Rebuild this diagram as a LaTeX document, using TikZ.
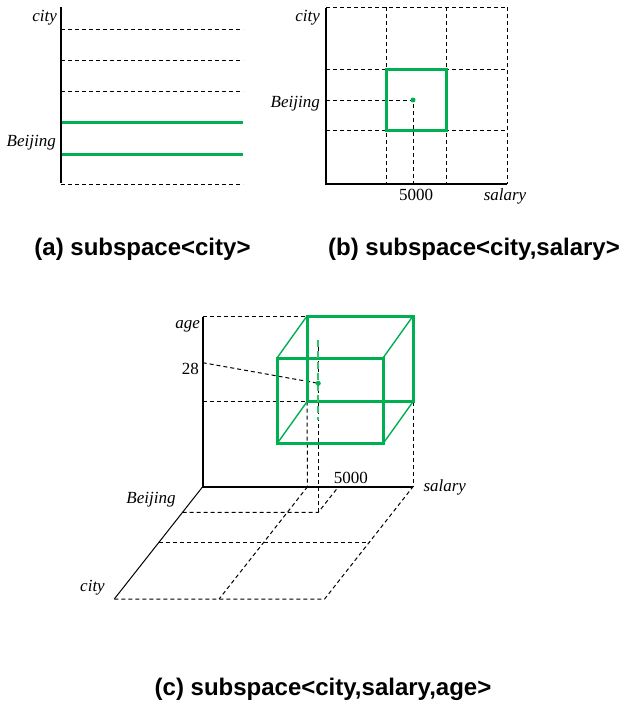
\documentclass[tikz,border=0pt]{standalone}
\usepackage{fontspec}
\setmainfont{Liberation Serif}
\newfontfamily\capfont{Liberation Sans}
\definecolor{sgreen}{RGB}{0,176,80}
\begin{document}
\begin{tikzpicture}[x=1pt,y=-1pt,
  axis/.style={line width=2pt,black},
  thinaxis/.style={line width=1pt,black},
  grid/.style={line width=1pt,black,dash pattern=on 4pt off 3pt},
  gthick/.style={line width=3pt,sgreen},
  gthin/.style={line width=1.4pt,sgreen},
  gdash/.style={line width=2pt,sgreen!80,dash pattern=on 7pt off 4pt},
  lab/.style={inner sep=0pt,font=\fontsize{17}{20}\selectfont\itshape},
  num/.style={inner sep=0pt,font=\fontsize{17}{20}\selectfont},
  captxt/.style={inner sep=0pt,anchor=base,font=\capfont\bfseries\fontsize{24}{28}\selectfont},
  gdot/.style={circle,fill=sgreen,inner sep=0pt,minimum size=5pt}]
\useasboundingbox (0,0) rectangle (625,705);
% ---------------- (a)
\coordinate (aO) at (61,184);
\coordinate (aT) at (61,7);
\foreach \y/\n in {29/1,60/2,91/3,184/4}{
  \coordinate (aL\n) at (61,\y); \coordinate (aR\n) at (243,\y);
  \draw[grid] (aL\n) -- (aR\n);}
\foreach \y/\n in {122/1,154/2}{
  \coordinate (gL\n) at (61,\y); \coordinate (gR\n) at (243,\y);
  \draw[gthick] (gL\n) -- (gR\n);}
\draw[axis] (aT) -- ([yshift=1pt]aO);
\node[lab,anchor=base east] (acity) at (57,21.5) {city};
\node[lab,anchor=base east] (abj) at (56,146.5) {Beijing};
\node[captxt] (capa) at (142.5,255) {(a) subspace<city>};
% ---------------- (b)
\coordinate (bO) at (326,184);
\coordinate (bT) at (326,7);
\coordinate (bR) at (507,184);
\foreach \x/\n in {386/1,446/2,507/3}{
  \coordinate (bvT\n) at (\x,7); \coordinate (bvB\n) at (\x,184);
  \draw[grid] (bvT\n) -- (bvB\n);}
\foreach \y/\n in {7/1,69/2,130/3}{
  \coordinate (bhL\n) at (326,\y); \coordinate (bhR\n) at (507,\y);
  \draw[grid] (bhL\n) -- (bhR\n);}
\coordinate (bP) at (413,100);
\coordinate (bPL) at (326,100);
\coordinate (bPB) at (413,184);
\draw[grid] (bPL) -- (bP) -- (bPB);
\coordinate (bs1) at (386,69);
\coordinate (bs2) at (446,130);
\draw[gthick] (bs1) rectangle (bs2);
\node[gdot] (bdot) at (bP) {};
\draw[axis] ([yshift=-1pt]bT) -- (bO) -- (bR);
\node[lab,anchor=base east] (bcity) at (320,21) {city};
\node[lab,anchor=base east] (bbj) at (320,107) {Beijing};
\node[num,anchor=base] (b5000) at (416,200) {5000};
\node[lab,anchor=base] (bsal) at (505,200) {salary};
\node[captxt] (capb) at (474,255) {(b) subspace<city,salary>};
% ---------------- (c)
\coordinate (O) at (202.7,486.7);
\coordinate (cT) at (202.7,316);
\coordinate (cS) at (413,486.7);
\coordinate (cC) at (114.3,599);
% floor
\coordinate (fb1L) at (182.5,512.3);
\coordinate (fb1R) at (318.3,512.3);
\coordinate (fm1L) at (158.5,542.8);
\coordinate (fm1R) at (368.8,542.8);
\coordinate (fbtR) at (324.6,599);
\coordinate (s1) at (307.5,486.7);
\coordinate (s1b) at (219.1,599);
\coordinate (s5) at (338.5,486.7);
\draw[grid] (fb1L) -- (fb1R) -- (s5);
\draw[grid] (fm1L) -- (fm1R);
\draw[grid] (cC) -- (fbtR) -- (cS);
\draw[grid] (s1) -- (s1b);
% vertical plane
\coordinate (bk1) at (307,316);
\coordinate (bk2) at (413,316);
\coordinate (bk3) at (413,401.7);
\coordinate (bk4) at (307,401.7);
\coordinate (fr1) at (277,358);
\coordinate (fr2) at (383,358);
\coordinate (fr3) at (383,443.7);
\coordinate (fr4) at (277,443.7);
\coordinate (ch1) at (202.7,401.7);
\coordinate (c28) at (202.7,362.7);
\coordinate (pt) at (318.3,383.3);
\coordinate (ptT) at (318.3,340);
\coordinate (ptG) at (318.3,420);
\draw[grid] (cT) -- (bk1);
\draw[grid] (ch1) -- (bk4);
\draw[grid] (c28) -- (pt);
\draw[grid] (bk4) -- (s1);
\draw[grid] (bk3) -- (cS);
\draw[grid] (ptT) -- (fb1R);
% box
\draw[gthin] (bk1) -- (fr1) (bk2) -- (fr2) (bk3) -- (fr3) (bk4) -- (fr4);
\draw[gthick] (bk1) -- (bk2) -- (bk3) -- (bk4) -- cycle;
\draw[gthick] (fr1) -- (fr2) -- (fr3) -- (fr4) -- cycle;
\draw[gdash] (ptT) -- (ptG);
\node[gdot] (cdot) at (pt) {};
% axes
\draw[thinaxis] (O) -- (cC);
\draw[axis] ([yshift=-1pt]cT) -- (O) -- (cS);
\node[lab,anchor=base east] (cage) at (200,328) {age};
\node[num,anchor=base east] (c28l) at (199,374) {28};
\node[num,anchor=base] (c5000) at (350.8,483.3) {5000};
\node[lab,anchor=base west] (csal) at (423.3,491.7) {salary};
\node[lab,anchor=base] (cbj) at (151,503.3) {Beijing};
\node[lab,anchor=base] (ccity) at (92.5,591.7) {city};
\node[captxt] (capc) at (323,695) {(c) subspace<city,salary,age>};
\end{tikzpicture}
\end{document}
